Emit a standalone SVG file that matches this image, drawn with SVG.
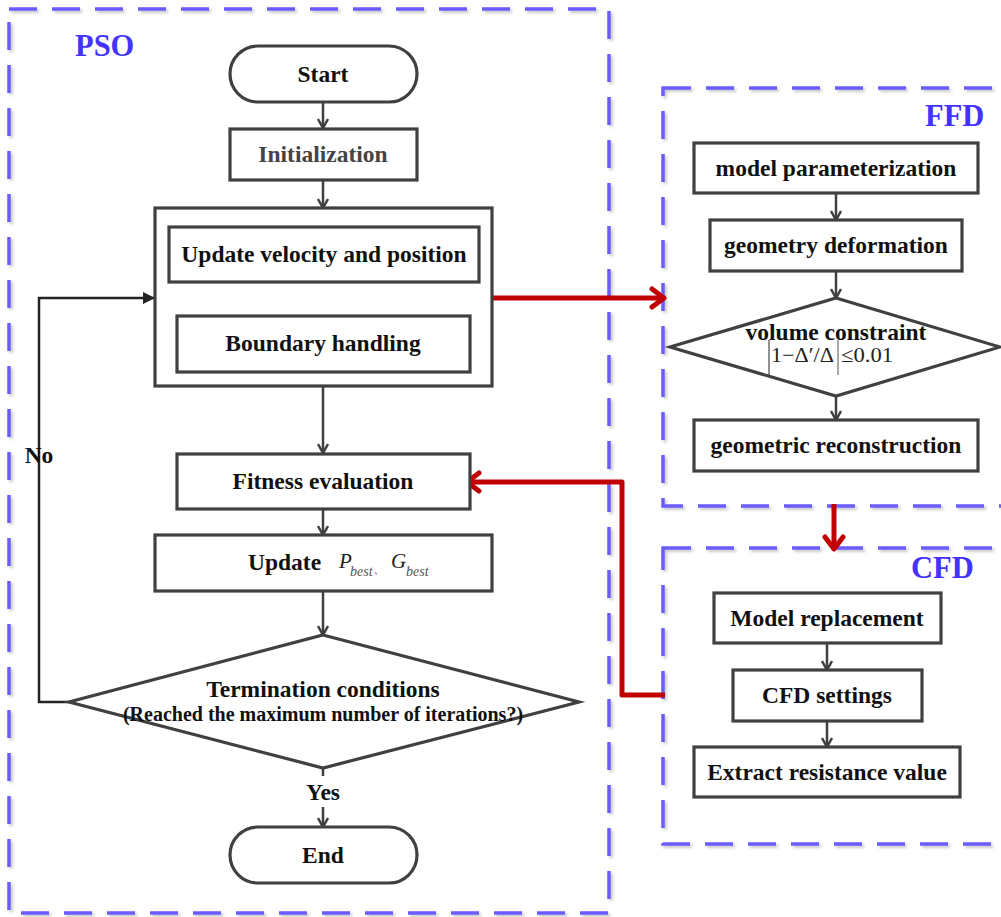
<svg xmlns="http://www.w3.org/2000/svg" width="1001" height="917" viewBox="0 0 1001 917">
<style>
.box{fill:#fff;stroke:#404040;stroke-width:3.2}
.dash{fill:none;stroke:#6a5cff;stroke-width:3.5;stroke-dasharray:28 15;filter:url(#sh)}
.t{font-family:"Liberation Serif","Times New Roman",serif;font-weight:bold;font-size:23.5px;fill:#111;text-anchor:middle}
.lbl{font-family:"Liberation Serif","Times New Roman",serif;font-weight:bold;font-size:30.5px;fill:#4433ff}
.ln{stroke:#404040;stroke-width:2.5;fill:none}
.red{stroke:#c00000;stroke-width:5;fill:none;stroke-linejoin:round}
.m{font-family:"Liberation Serif","Times New Roman",serif;fill:#222}
</style>
<defs>
<filter id="sh" x="-5%" y="-5%" width="110%" height="110%">
<feDropShadow dx="2" dy="2" stdDeviation="1.5" flood-color="#888" flood-opacity="0.5"/>
</filter>
<marker id="arr" viewBox="0 0 12 12" refX="11" refY="6" markerWidth="12" markerHeight="12" markerUnits="userSpaceOnUse" orient="auto">
<path d="M2,1 L11,6 L2,11" fill="none" stroke="#404040" stroke-width="2.5"/>
</marker>
<marker id="tri" viewBox="0 0 12 12" refX="12" refY="6" markerWidth="12" markerHeight="12" markerUnits="userSpaceOnUse" orient="auto">
<path d="M0,0 L12,6 L0,12 Z" fill="#222"/>
</marker>
<marker id="rarr" viewBox="0 0 18 24" refX="15" refY="12" markerWidth="18" markerHeight="24" markerUnits="userSpaceOnUse" orient="auto">
<path d="M3,3 L15,12 L3,21" fill="none" stroke="#c00000" stroke-width="5" stroke-linecap="round" stroke-linejoin="round"/>
</marker>
</defs>
<rect width="1001" height="917" fill="#fff"/>

<g id="groups">
<rect class="dash" x="9" y="9" width="600" height="904"/>
<rect class="dash" x="663" y="88" width="360" height="418"/>
<rect class="dash" x="663" y="548" width="360" height="296"/>
<text class="lbl" x="75" y="56">PSO</text>
<text class="lbl" x="925" y="126">FFD</text>
<text class="lbl" x="911" y="578">CFD</text>
</g>

<g id="connectors">
<line class="ln" x1="323" y1="102" x2="323" y2="128" marker-end="url(#arr)"/>
<line class="ln" x1="323" y1="180" x2="323" y2="208" marker-end="url(#arr)"/>
<line class="ln" x1="323" y1="282" x2="323" y2="315" marker-end="url(#arr)"/>
<line class="ln" x1="323" y1="386" x2="323" y2="453" marker-end="url(#arr)"/>
<line class="ln" x1="323" y1="509" x2="323" y2="535" marker-end="url(#arr)"/>
<line class="ln" x1="323" y1="591" x2="323" y2="635" marker-end="url(#arr)"/>
<line class="ln" x1="323" y1="768" x2="323" y2="776"/>
<line class="ln" x1="323" y1="807" x2="323" y2="827" marker-end="url(#arr)"/>
<polyline points="69,702 39,702 39,298 155,298" fill="none" stroke="#222" stroke-width="2.5" marker-end="url(#tri)"/>
<line class="ln" x1="836" y1="193" x2="836" y2="220" marker-end="url(#arr)"/>
<line class="ln" x1="836" y1="271" x2="836" y2="298" marker-end="url(#arr)"/>
<line class="ln" x1="836" y1="396" x2="836" y2="420" marker-end="url(#arr)"/>
<line class="ln" x1="827" y1="643" x2="827" y2="670" marker-end="url(#arr)"/>
<line class="ln" x1="827" y1="721" x2="827" y2="747" marker-end="url(#arr)"/>
<line class="red" x1="490" y1="298" x2="664" y2="298" marker-end="url(#rarr)"/>
<line class="red" x1="834" y1="504" x2="834" y2="549" marker-end="url(#rarr)"/>
<polyline class="red" points="665,695 622,695 622,482 467,482" marker-end="url(#rarr)"/>
<text class="t" x="39" y="463">No</text>
<text class="t" x="323" y="800">Yes</text>
</g>

<g id="start">
<rect class="box" x="230" y="46" width="187" height="56" rx="28"/>
<text class="t" x="323" y="82">Start</text>
</g>
<g id="init">
<rect class="box" x="230" y="129" width="187" height="51"/>
<text class="t" x="323" y="162" style="fill:#444">Initialization</text>
</g>
<g id="update-group">
<rect class="box" x="155" y="208" width="337" height="178"/>
</g>
<g id="update-velocity">
<rect class="box" x="169" y="227" width="310" height="55"/>
<text class="t" x="324" y="262">Update velocity and position</text>
</g>
<g id="boundary">
<rect class="box" x="177" y="316" width="293" height="56"/>
<text class="t" x="323" y="351">Boundary handling</text>
</g>
<g id="fitness">
<rect class="box" x="177" y="454" width="293" height="55"/>
<text class="t" x="323" y="489">Fitness evaluation</text>
</g>
<g id="update-best">
<rect class="box" x="155" y="535" width="337" height="56"/>
<text class="t" x="248" y="570" style="text-anchor:start">Update</text>
<text class="m" x="339" y="568" style="font-size:21px;font-style:italic">P</text>
<text class="m" x="350" y="576" style="font-size:14px;font-style:italic;fill:#555">best</text>
<text class="m" x="373" y="573" style="font-size:13px;fill:#555">、</text>
<text class="m" x="391" y="568" style="font-size:21px;font-style:italic">G</text>
<text class="m" x="406" y="576" style="font-size:14px;font-style:italic;fill:#555">best</text>
</g>
<g id="termination">
<polygon class="box" points="323,635 579,702 323,768 69,702"/>
<text class="t" x="323" y="697">Termination conditions</text>
<text class="t" x="323" y="721" style="font-size:20px">(Reached the maximum number of iterations?)</text>
</g>
<g id="end">
<rect class="box" x="230" y="827" width="187" height="56" rx="28"/>
<text class="t" x="323" y="863">End</text>
</g>

<g id="model-param">
<rect class="box" x="694" y="143" width="284" height="50"/>
<text class="t" x="836" y="176">model parameterization</text>
</g>
<g id="geometry-deform">
<rect class="box" x="710" y="220" width="252" height="51"/>
<text class="t" x="836" y="253">geometry deformation</text>
</g>
<g id="volume">
<polygon class="box" points="836,298 1000,347 836,396 670,347"/>
<text class="t" x="836" y="340">volume constraint</text>
<line x1="769" y1="340" x2="769" y2="375" stroke="#222" stroke-width="1"/>
<text class="m" x="771" y="362" textLength="63" lengthAdjust="spacingAndGlyphs" style="font-size:21px">1−Δ′/Δ</text>
<line x1="838" y1="340" x2="838" y2="375" stroke="#555" stroke-width="1"/>
<text class="m" x="841" y="362" textLength="52" lengthAdjust="spacingAndGlyphs" style="font-size:21px">≤0.01</text>
</g>
<g id="geo-recon">
<rect class="box" x="694" y="420" width="284" height="51"/>
<text class="t" x="836" y="453">geometric reconstruction</text>
</g>

<g id="model-replace">
<rect class="box" x="714" y="593" width="227" height="50"/>
<text class="t" x="827" y="626">Model replacement</text>
</g>
<g id="cfd-settings">
<rect class="box" x="733" y="670" width="189" height="51"/>
<text class="t" x="827" y="703">CFD settings</text>
</g>
<g id="extract">
<rect class="box" x="694" y="747" width="266" height="50"/>
<text class="t" x="827" y="780">Extract resistance value</text>
</g>
</svg>
